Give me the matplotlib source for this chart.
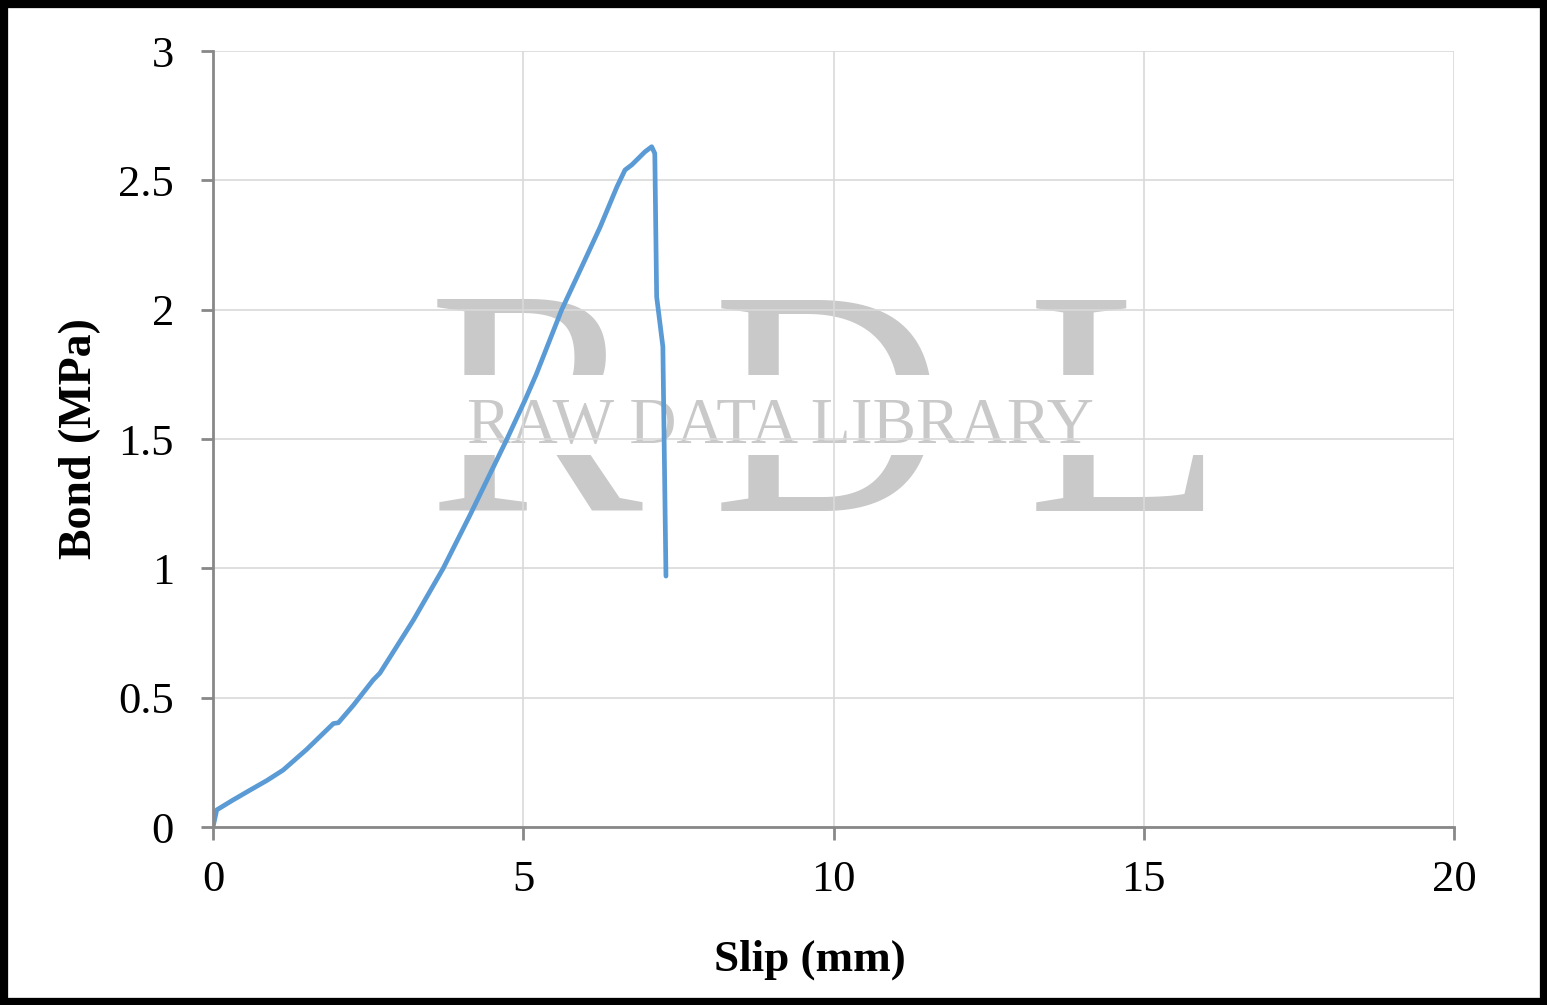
import matplotlib
matplotlib.use('Agg')
import matplotlib.pyplot as plt
from matplotlib.patches import Rectangle

# slip (mm) vs bond stress (MPa)
slip = [0.0, 0.06, 0.32, 0.6, 0.87, 1.13, 1.51, 1.94, 2.02, 2.26, 2.58, 2.69,
        3.23, 3.71, 4.14, 4.73, 5.03, 5.21, 5.62, 5.97, 6.24, 6.51, 6.64,
        6.75, 6.96, 7.07, 7.12, 7.15, 7.25, 7.30]
bond = [0.0, 0.066, 0.104, 0.143, 0.18, 0.22, 0.30, 0.40, 0.403, 0.47, 0.568, 0.595,
        0.80, 1.0, 1.205, 1.496, 1.651, 1.75, 2.0, 2.18, 2.32, 2.475, 2.54,
        2.56, 2.61, 2.63, 2.604, 2.05, 1.857, 0.97]

x_ticks = [0, 5, 10, 15, 20]
y_ticks = [0, 0.5, 1, 1.5, 2, 2.5, 3]
y_tick_labels = ['0', '0.5', '1', '1.5', '2', '2.5', '3']

W, H = 1547, 1005
plt.rcParams['font.family'] = ['Liberation Serif', 'DejaVu Serif']

fig = plt.figure(figsize=(W / 100, H / 100), dpi=100)
ax = fig.add_axes([213 / W, 1 - 827 / H, (1454 - 213) / W, (827 - 51) / H])

# --- watermark ---
wm_col = '#c9c9c9'
for letter, cx in zip(['R', 'D', 'L'], [535, 828, 1125]):
    ax.text(cx / W, 1 - 433 / H, letter, transform=fig.transFigure,
            fontsize=232, color=wm_col, ha='center', va='center', zorder=0.1)
ax.add_artist(Rectangle((425 / W, 1 - 455 / H), 800 / W, 80 / H,
                        transform=fig.transFigure, facecolor='white',
                        edgecolor='none', zorder=0.2))
ax.text(780 / W, 1 - 427 / H, 'RAW DATA LIBRARY', transform=fig.transFigure,
        fontsize=47, color=wm_col, ha='center', va='center', zorder=0.3)

ax.plot(slip, bond, color='#5b9bd5', lw=3.4, solid_capstyle='round',
        solid_joinstyle='round', zorder=2)

ax.set_xlim(0, 20)
ax.set_ylim(0, 3)
ax.set_xticks(x_ticks)
ax.set_yticks(y_ticks)
ax.set_yticklabels(y_tick_labels)
ax.grid(True, color='#d9d9d9', lw=1.2)
ax.set_axisbelow(True)
for ln in ax.get_xgridlines() + ax.get_ygridlines():
    ln.set_zorder(0.5)

for s in ['top', 'right']:
    ax.spines[s].set_visible(False)
for s in ['left', 'bottom']:
    ax.spines[s].set_color('#888888')
    ax.spines[s].set_linewidth(2)
ax.tick_params(axis='both', colors='#888888', width=2, length=9,
               labelcolor='black', labelsize=32)
ax.tick_params(axis='y', pad=19)
ax.tick_params(axis='x', pad=15)

ax.set_xlabel('Slip (mm)', fontsize=32.5, fontweight='bold')
ax.set_ylabel('Bond (MPa)', fontsize=33, fontweight='bold')
ax.xaxis.set_label_coords((810 - 213) / 1241, (827 - 940) / 776)
ax.yaxis.set_label_coords((101 - 213) / 1241, (827 - 439) / 776)

# black frame round the whole picture
fig.add_artist(Rectangle((0, 0), 1, 1, transform=fig.transFigure, fill=False,
                         edgecolor='black', lw=11))

fig.savefig('out.png', dpi=100)
